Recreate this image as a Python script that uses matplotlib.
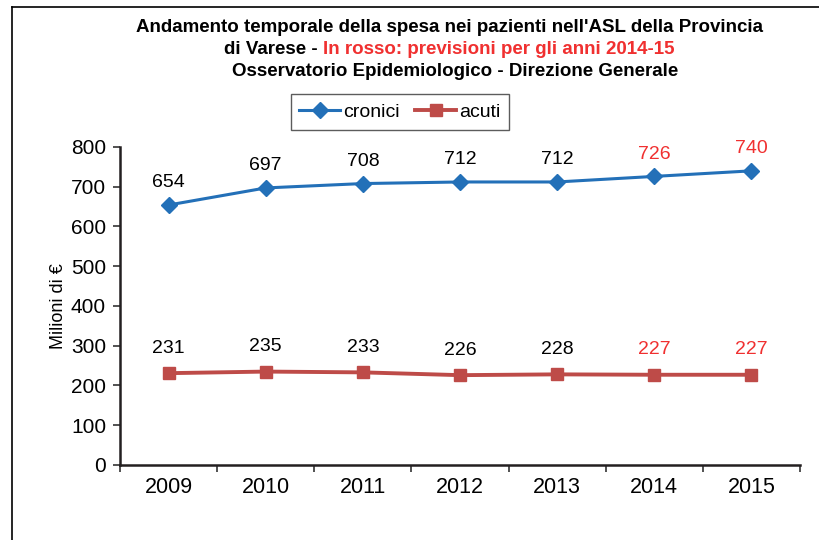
import matplotlib
matplotlib.use("Agg")
import matplotlib.pyplot as plt
from matplotlib.lines import Line2D
from matplotlib.offsetbox import TextArea, HPacker, AnchoredOffsetbox
import numpy as np

plt.rcParams['font.family'] = ['Liberation Sans', 'DejaVu Sans']

years = ['2009', '2010', '2011', '2012', '2013', '2014', '2015']
cronici = [654, 697, 708, 712, 712, 726, 740]
acuti = [231, 235, 233, 226, 228, 227, 227]
forecast = [False, False, False, False, False, True, True]

blue = '#2370B8'
red = '#BE4B48'
lab_red = '#F03030'

fig = plt.figure(figsize=(8.2, 5.4), dpi=100)
ax = fig.add_axes([0.1463, 0.1389, 0.8293, 0.5889])

x = np.arange(len(years))
ax.plot(x, cronici, color=blue, lw=2.2, marker='D', ms=8.5, label='cronici', zorder=3)
ax.plot(x, acuti, color=red, lw=2.8, marker='s', ms=9, label='acuti', zorder=3)

for xi, v, f in zip(x, cronici, forecast):
    ax.annotate(str(v), (xi, v), xytext=(0, 16), textcoords='offset points',
                ha='center', va='center', fontsize=14, color=lab_red if f else 'black')
for xi, v, f in zip(x, acuti, forecast):
    ax.annotate(str(v), (xi, v), xytext=(0, 18), textcoords='offset points',
                ha='center', va='center', fontsize=14, color=lab_red if f else 'black')

ax.set_xlim(-0.5, len(years) - 0.5)
ax.set_ylim(0, 800)
ax.set_yticks(np.arange(0, 801, 100))
ax.set_xticks(x)
ax.set_xticklabels(years)
ax.set_xticks(np.arange(-0.5, len(years), 1), minor=True)
ax.tick_params(axis='x', which='major', length=0, pad=9, labelsize=15.5)
ax.tick_params(axis='x', which='minor', length=5, width=1.2, direction='out', color='#333333')
ax.tick_params(axis='y', length=5, width=1.2, direction='out', labelsize=15, pad=5, color='#333333')
for s in ['top', 'right']:
    ax.spines[s].set_visible(False)
for s in ['left', 'bottom']:
    ax.spines[s].set_linewidth(1.8)
    ax.spines[s].set_color('#231F20')
ax.set_ylabel('Milioni di €', fontsize=13, labelpad=3)

leg = ax.legend(loc='center', bbox_to_anchor=(400 / 820, 1 - 112 / 540),
                bbox_transform=fig.transFigure, ncol=2, frameon=True, fancybox=False,
                edgecolor='#333333', fontsize=14, handlelength=2.1, columnspacing=0.8,
                handletextpad=0.15, borderpad=0.45, borderaxespad=0)
leg.get_frame().set_linewidth(1.0)

# Title
fs = 13.5
tkw = dict(ha='center', va='center', fontsize=fs, fontweight='bold')
fig.text(450 / 820, 1 - 28 / 540, "Andamento temporale della spesa nei pazienti nell'ASL della Provincia", **tkw)
fig.text(455 / 820, 1 - 72 / 540, "Osservatorio Epidemiologico - Direzione Generale", **tkw)
ta1 = TextArea("di Varese - ", textprops=dict(fontsize=fs, fontweight='bold', color='black'))
ta2 = TextArea("In rosso: previsioni per gli anni 2014-15",
               textprops=dict(fontsize=fs, fontweight='bold', color=lab_red))
box = HPacker(children=[ta1, ta2], align='baseline', pad=0, sep=0)
anc = AnchoredOffsetbox(loc='center', child=box, pad=0, frameon=False,
                        bbox_to_anchor=(449 / 820, 1 - 49 / 540), bbox_transform=fig.transFigure,
                        borderpad=0)
fig.add_artist(anc)

# Outer frame lines
fig.add_artist(Line2D([12 / 820, 1], [1 - 7 / 540, 1 - 7 / 540], transform=fig.transFigure,
                      color='black', lw=1.2))
fig.add_artist(Line2D([12 / 820, 12 / 820], [0, 1 - 7 / 540], transform=fig.transFigure,
                      color='black', lw=1.2))

fig.savefig('out.png', dpi=100)
